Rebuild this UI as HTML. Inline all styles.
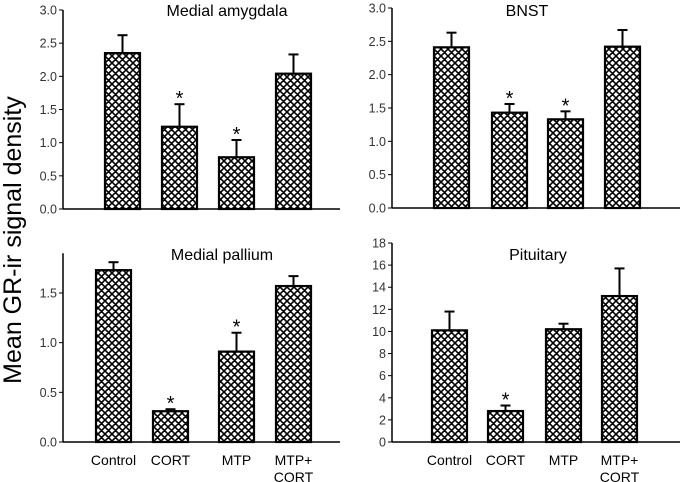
<!DOCTYPE html>
<html><head><meta charset="utf-8"><style>
body{margin:0;background:#fff}
svg{display:block;font-family:"Liberation Sans",Arial,sans-serif}
</style></head><body>
<svg id="c" width="683" height="482" viewBox="0 0 683 482">
<defs>
<pattern id="hatch" width="7" height="7" patternUnits="userSpaceOnUse">
<rect width="7" height="7" fill="#fff"/>
<path d="M-1,1 L1,-1 M0,7 L7,0 M6,8 L8,6 M-1,6 L1,8 M0,0 L7,7 M6,-1 L8,1" stroke="#000" stroke-width="1.6"/>
</pattern>
</defs>
<text x="21" y="240" font-size="25" text-anchor="middle" transform="rotate(-90 21 240)">Mean GR-ir signal density</text>
</svg>
<script>
const categories=["Control","CORT","MTP","MTP+\nCORT"];
const maValues=[2.35,1.24,0.78,2.04];
const maErrors=[0.27,0.34,0.26,0.29];
const maSig=[false,true,true,false];
const bnValues=[2.41,1.43,1.33,2.42];
const bnErrors=[0.22,0.13,0.12,0.25];
const bnSig=[false,true,true,false];
const mpValues=[1.73,0.31,0.91,1.57];
const mpErrors=[0.08,0.02,0.19,0.10];
const mpSig=[false,true,true,false];
const ptValues=[10.1,2.8,10.2,13.2];
const ptErrors=[1.7,0.5,0.5,2.5];
const ptSig=[false,true,false,false];
const ticks3=["0.0","0.5","1.0","1.5","2.0","2.5","3.0"];
const ticksMP=["0.0","0.5","1.0","1.5"];
const ticksPT=["0","2","4","6","8","10","12","14","16","18"];

const svg=document.getElementById('c');
const NS="http://www.w3.org/2000/svg";
function mk(t,a,p){const e=document.createElementNS(NS,t);for(const k in a)e.setAttribute(k,a[k]);(p||svg).appendChild(e);return e;}

const panels=[
 {name:"medial-amygdala",title:"Medial amygdala",tx:227,ty:16,vals:maValues,errs:maErrors,sig:maSig,ticks:ticks3,tickStep:0.5,max:3.0,axMax:3.0,ax:63,xEnd:340,y0:209,yTop:10,bars:[105,162,219,276],labels:false},
 {name:"bnst",title:"BNST",tx:527,ty:16,vals:bnValues,errs:bnErrors,sig:bnSig,ticks:ticks3,tickStep:0.5,max:3.0,axMax:3.0,ax:392,xEnd:680,y0:208,yTop:8,bars:[434,492,548,605],labels:false},
 {name:"medial-pallium",title:"Medial pallium",tx:222,ty:260,vals:mpValues,errs:mpErrors,sig:mpSig,ticks:ticksMP,tickStep:0.5,max:1.5,axMax:1.9,ax:63,xEnd:340,y0:442,yTop:293,bars:[96,153,219,276],labels:true},
 {name:"pituitary",title:"Pituitary",tx:538,ty:260,vals:ptValues,errs:ptErrors,sig:ptSig,ticks:ticksPT,tickStep:2,max:18,axMax:18,ax:392,xEnd:680,y0:442,yTop:243,bars:[432,488,546,602],labels:true}
];
const BW=35;
panels.forEach(p=>{
 const g=mk('g',{});
 
 
 const y=v=>p.y0-(v/p.max)*(p.y0-p.yTop);
 const t=mk('text',{x:p.tx,y:p.ty,'font-size':16,'text-anchor':'middle'},g);
 t.textContent=p.title;
 
 
 const ya=mk('line',{x1:p.ax,y1:y(p.axMax),x2:p.ax,y2:p.y0,stroke:'#000','stroke-width':1.5},g);
 
 
 const xa=mk('line',{x1:p.ax,y1:p.y0,x2:p.xEnd,y2:p.y0,stroke:'#000','stroke-width':1.5},g);
 
 
 p.ticks.forEach((lab,i)=>{
  const v=i*p.tickStep, yy=y(v);
  mk('line',{x1:p.ax-4,y1:yy,x2:p.ax,y2:yy,stroke:'#000','stroke-width':1},g);
  const tl=mk('text',{x:p.ax-6,y:yy+4.5,'font-size':12.5,'text-anchor':'end',fill:'#333'},g);
  tl.textContent=lab;
  
  
 });
 p.vals.forEach((v,i)=>{
  const x=p.bars[i], top=y(v), et=y(v+p.errs[i]), cx=x+BW/2;
  const el=mk('line',{x1:cx,y1:top,x2:cx,y2:et,stroke:'#000','stroke-width':2},g);
  
  
  mk('line',{x1:cx-5,y1:et,x2:cx+5,y2:et,stroke:'#000','stroke-width':2},g);
  const r=mk('rect',{x:x,y:top,width:BW,height:p.y0-top,fill:'url(#hatch)',stroke:'#000','stroke-width':2.2},g);
  
  
  if(p.sig[i]){
   const s=mk('text',{x:cx,y:et+1,'font-size':20,'text-anchor':'middle'},g);
   s.textContent='*';
   
   
  }
  if(p.labels){
   const parts=categories[i].split('\n');
   parts.forEach((s,j)=>{
    const c=mk('text',{x:cx,y:465+j*17,'font-size':14,'text-anchor':'middle'},g);
    c.textContent=s;
    
    
   });
  }
 });
});
</script>
</body></html>
